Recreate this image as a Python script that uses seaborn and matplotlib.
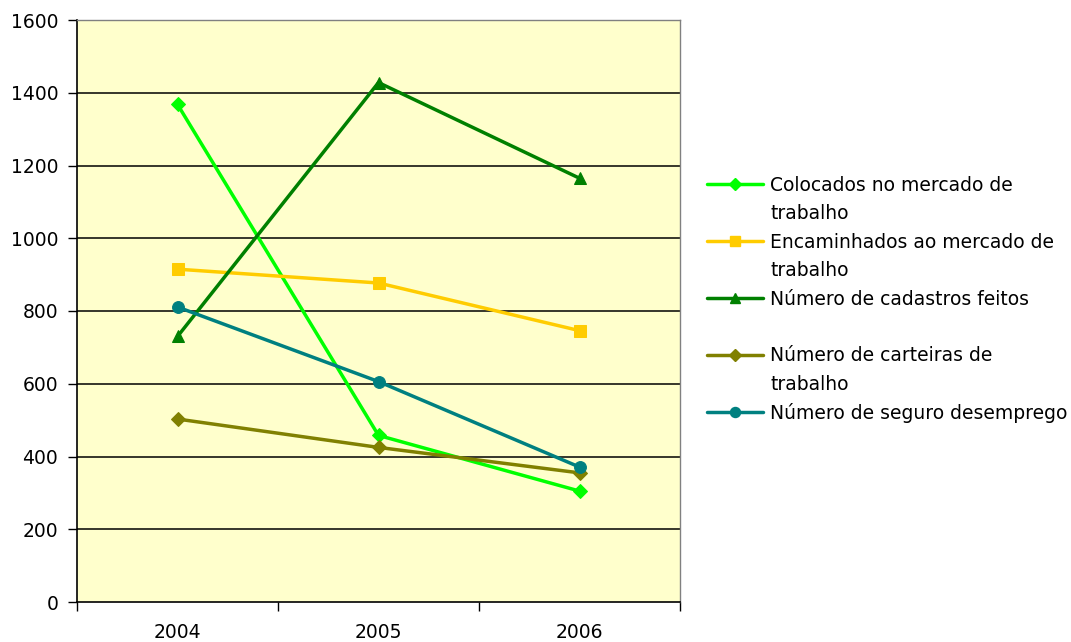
import matplotlib
matplotlib.use("Agg")
import matplotlib.pyplot as plt
from matplotlib.lines import Line2D
import seaborn as sns
import pandas as pd

years = ["2004", "2005", "2006"]
series_names = [
    "Colocados no mercado de\ntrabalho",
    "Encaminhados ao mercado de\ntrabalho",
    "Número de cadastros feitos",
    "Número de carteiras de\ntrabalho",
    "Número de seguro desemprego",
]
colocados = [1368, 458, 305]
encaminhados = [915, 877, 746]
cadastros = [730, 1428, 1165]
carteiras = [503, 425, 355]
seguro = [811, 606, 371]
values = [colocados, encaminhados, cadastros, carteiras, seguro]

colors = ["#00FF00", "#FFCC00", "#008000", "#808000", "#008080"]
markers = ["D", "s", "^", "D", "o"]
msizes = [7, 8, 9, 7, 8.5]

rows = []
for name, vals in zip(series_names, values):
    for i, (y, v) in enumerate(zip(years, vals)):
        rows.append({"serie": name, "pos": i, "ano": y, "valor": v})
df = pd.DataFrame(rows)

sns.set_style("ticks")
plt.rcParams["font.family"] = ["DejaVu Sans"]
plt.rcParams["text.color"] = "black"
plt.rcParams["xtick.color"] = "black"
plt.rcParams["ytick.color"] = "black"
plt.rcParams["xtick.labelcolor"] = "black"
plt.rcParams["ytick.labelcolor"] = "black"

FS = 13.5
LW = 2.5

fig = plt.figure(figsize=(10.71, 6.42), dpi=100)
ax = fig.add_axes([77 / 1071, 1 - 602 / 642, (680 - 77) / 1071, (602 - 20) / 642])
ax.set_facecolor("#FFFFCC")

for name, col, mk, ms in zip(series_names, colors, markers, msizes):
    sub = df[df["serie"] == name]
    sns.lineplot(data=sub, x="pos", y="valor", ax=ax, color=col, marker=mk,
                 markersize=ms, markeredgecolor=col, markerfacecolor=col,
                 linewidth=LW, legend=False, zorder=3)

ax.set_xlim(-0.5, 2.5)
ax.set_ylim(0, 1600)
ax.set_yticks(range(0, 1601, 200))
ax.set_xticks([-0.5, 0.5, 1.5, 2.5])
ax.set_xticklabels([])
ax.set_xticks(range(len(years)), minor=True)
ax.set_xticklabels(years, minor=True)
ax.tick_params(axis="x", which="major", length=6.5, width=1, color="black", direction="out")
ax.tick_params(axis="x", which="minor", length=0, pad=15, labelsize=FS, labelcolor="black")
ax.tick_params(axis="y", length=6.5, width=1, color="black", direction="out", pad=7,
               labelsize=FS, labelcolor="black")
ax.set_xlabel("")
ax.set_ylabel("")

ax.yaxis.grid(True, color="black", linewidth=1.1, zorder=1)
ax.set_axisbelow(True)
ax.get_ygridlines()[-1].set_visible(False)
ax.get_ygridlines()[0].set_visible(False)

for s in ["left", "bottom"]:
    ax.spines[s].set_color("black")
    ax.spines[s].set_linewidth(1.2)
for s in ["top", "right"]:
    ax.spines[s].set_visible(True)
    ax.spines[s].set_color("#808080")
    ax.spines[s].set_linewidth(1.0)

# Legend: one row per text line, handle on the first line of each entry
leg_handles = []
leg_labels = []
blank = Line2D([], [], linestyle="none", marker=None)
for name, col, mk, ms in zip(series_names, colors, markers, msizes):
    h = Line2D([], [], color=col, marker=mk, markersize=ms * 0.85,
               markeredgecolor=col, markerfacecolor=col, linewidth=LW)
    parts = name.split("\n")
    leg_handles.append(h)
    leg_labels.append(parts[0])
    if len(parts) > 1:
        leg_handles.append(blank)
        leg_labels.append(parts[1])
    elif name == series_names[2]:
        leg_handles.append(blank)
        leg_labels.append(" ")

fig.legend(leg_handles, leg_labels, loc="center left",
           bbox_to_anchor=(707 / 1071, 1 - 299.5 / 642), frameon=False,
           fontsize=FS, handlelength=3.0, handletextpad=0.37,
           labelspacing=0.5, borderpad=0, borderaxespad=0, labelcolor="black")

fig.savefig("out.png", dpi=100, facecolor="white")
